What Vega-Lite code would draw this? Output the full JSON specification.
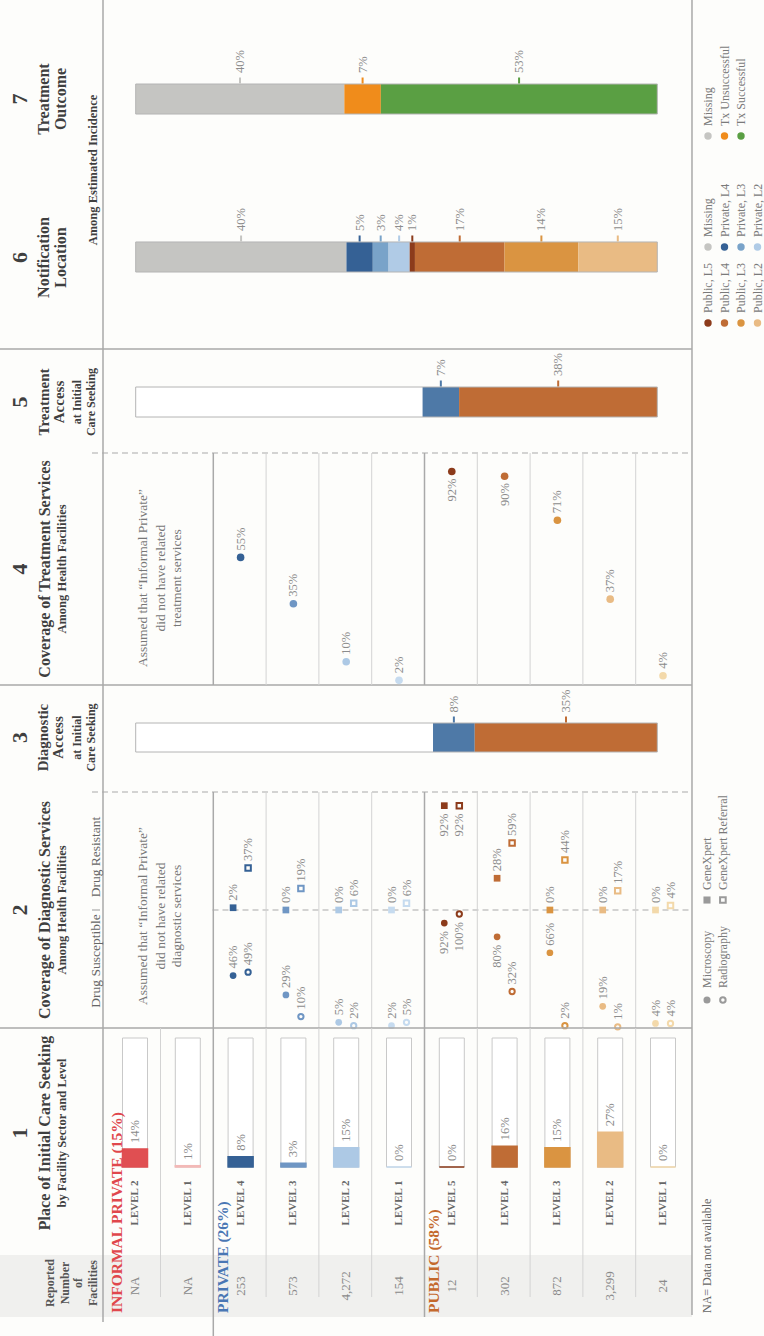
{
"$schema":"https://vega.github.io/schema/vega-lite/v6.json",
"width":764,"height":1336,"padding":0,"autosize":{"type":"none"},
"background":"#fdfdfb",
"config":{"view":{"stroke":null},"axis":{"disable":true},"legend":{"disable":true},"text":{"font":"Liberation Serif"}},
"datasets":{
"units":[
{"unit":"Informal L2","sector":"Informal Private","level":"LEVEL 2","facilities":"NA","seek":0.14,"tx":null},
{"unit":"Informal L1","sector":"Informal Private","level":"LEVEL 1","facilities":"NA","seek":0.01,"tx":null},
{"unit":"Private L4","sector":"Private","level":"LEVEL 4","facilities":"253","seek":0.08,"tx":0.55},
{"unit":"Private L3","sector":"Private","level":"LEVEL 3","facilities":"573","seek":0.03,"tx":0.35},
{"unit":"Private L2","sector":"Private","level":"LEVEL 2","facilities":"4,272","seek":0.15,"tx":0.10},
{"unit":"Private L1","sector":"Private","level":"LEVEL 1","facilities":"154","seek":0.0,"tx":0.02},
{"unit":"Public L5","sector":"Public","level":"LEVEL 5","facilities":"12","seek":0.0,"tx":0.92},
{"unit":"Public L4","sector":"Public","level":"LEVEL 4","facilities":"302","seek":0.16,"tx":0.90},
{"unit":"Public L3","sector":"Public","level":"LEVEL 3","facilities":"872","seek":0.15,"tx":0.71},
{"unit":"Public L2","sector":"Public","level":"LEVEL 2","facilities":"3,299","seek":0.27,"tx":0.37},
{"unit":"Public L1","sector":"Public","level":"LEVEL 1","facilities":"24","seek":0.0,"tx":0.04}
],
"diag":[
{"unit":"Private L4","test":"Microscopy","share":0.46},{"unit":"Private L4","test":"Radiography","share":0.49},{"unit":"Private L4","test":"GeneXpert","share":0.02},{"unit":"Private L4","test":"GeneXpert Referral","share":0.37},
{"unit":"Private L3","test":"Microscopy","share":0.29},{"unit":"Private L3","test":"Radiography","share":0.10},{"unit":"Private L3","test":"GeneXpert","share":0.0},{"unit":"Private L3","test":"GeneXpert Referral","share":0.19},
{"unit":"Private L2","test":"Microscopy","share":0.05},{"unit":"Private L2","test":"Radiography","share":0.02},{"unit":"Private L2","test":"GeneXpert","share":0.0},{"unit":"Private L2","test":"GeneXpert Referral","share":0.06},
{"unit":"Private L1","test":"Microscopy","share":0.02},{"unit":"Private L1","test":"Radiography","share":0.05},{"unit":"Private L1","test":"GeneXpert","share":0.0},{"unit":"Private L1","test":"GeneXpert Referral","share":0.06},
{"unit":"Public L5","test":"Microscopy","share":0.92},{"unit":"Public L5","test":"Radiography","share":1.0},{"unit":"Public L5","test":"GeneXpert","share":0.92},{"unit":"Public L5","test":"GeneXpert Referral","share":0.92},
{"unit":"Public L4","test":"Microscopy","share":0.80},{"unit":"Public L4","test":"Radiography","share":0.32},{"unit":"Public L4","test":"GeneXpert","share":0.28},{"unit":"Public L4","test":"GeneXpert Referral","share":0.59},
{"unit":"Public L3","test":"Microscopy","share":0.66},{"unit":"Public L3","test":"Radiography","share":0.02},{"unit":"Public L3","test":"GeneXpert","share":0.0},{"unit":"Public L3","test":"GeneXpert Referral","share":0.44},
{"unit":"Public L2","test":"Microscopy","share":0.19},{"unit":"Public L2","test":"Radiography","share":0.01},{"unit":"Public L2","test":"GeneXpert","share":0.0},{"unit":"Public L2","test":"GeneXpert Referral","share":0.17},
{"unit":"Public L1","test":"Microscopy","share":0.04},{"unit":"Public L1","test":"Radiography","share":0.04},{"unit":"Public L1","test":"GeneXpert","share":0.0},{"unit":"Public L1","test":"GeneXpert Referral","share":0.04}
],
"sectors":[
{"sector":"Informal Private","unit":"Informal L2","label":"INFORMAL PRIVATE (15%)"},
{"sector":"Private","unit":"Private L4","label":"PRIVATE (26%)"},
{"sector":"Public","unit":"Public L5","label":"PUBLIC (58%)"}
],
"outcomeNotif":[
{"measure":"Treatment Outcome","cat":"Missing","share":0.40},
{"measure":"Treatment Outcome","cat":"Tx Unsuccessful","share":0.07},
{"measure":"Treatment Outcome","cat":"Tx Successful","share":0.53},
{"measure":"Notification Location","cat":"Missing","share":0.40},
{"measure":"Notification Location","cat":"Private, L4","share":0.05},
{"measure":"Notification Location","cat":"Private, L3","share":0.03},
{"measure":"Notification Location","cat":"Private, L2","share":0.04},
{"measure":"Notification Location","cat":"Public, L5","share":0.01},
{"measure":"Notification Location","cat":"Public, L4","share":0.17},
{"measure":"Notification Location","cat":"Public, L3","share":0.14},
{"measure":"Notification Location","cat":"Public, L2","share":0.15}
],
"dxAccess":[
{"measure":"Diagnostic Access","cat":"Other","share":0.57},
{"measure":"Diagnostic Access","cat":"Private","share":0.08},
{"measure":"Diagnostic Access","cat":"Public","share":0.35}
],
"txAccess":[
{"measure":"Treatment Access","cat":"Other","share":0.55},
{"measure":"Treatment Access","cat":"Private","share":0.07},
{"measure":"Treatment Access","cat":"Public","share":0.38}
],
"legend67":[
{"block":"outcome","cat":"Missing"},{"block":"outcome","cat":"Tx Unsuccessful"},{"block":"outcome","cat":"Tx Successful"},
{"block":"private","cat":"Missing"},{"block":"private","cat":"Private, L4"},{"block":"private","cat":"Private, L3"},{"block":"private","cat":"Private, L2"},
{"block":"public","cat":"Public, L5"},{"block":"public","cat":"Public, L4"},{"block":"public","cat":"Public, L3"},{"block":"public","cat":"Public, L2"}
]
},
"layer":[
{"data":{"values":[{}]},"mark":{"type":"rect","fill":"#f0f0ee"},"encoding":{"x":{"datum":-1.5094,"type":"quantitative","scale":{"domain":[1,11],"range":[133,663],"nice":false,"zero":false}},"x2":{"datum":11.547},"y":{"datum":-0.682,"type":"quantitative","scale":{"domain":[0,1],"range":[1167,1038],"nice":false,"zero":false}},"y2":{"datum":-1.163}}},

{"data":{"values":[{}]},"layer":[
{"mark":{"type":"rule","color":"#a9a9a9","strokeWidth":1.5},"encoding":{"x":{"datum":0.434,"type":"quantitative","scale":{"domain":[1,11],"range":[133,663],"nice":false,"zero":false}},"y":{"datum":3.8,"type":"quantitative","scale":{"domain":[0,1],"range":[114,84],"nice":false,"zero":false}},"y2":{"datum":-7.833}}},
{"mark":{"type":"rule","color":"#a9a9a9","strokeWidth":1.5},"encoding":{"x":{"datum":11.547,"type":"quantitative","scale":{"domain":[1,11],"range":[133,663],"nice":false,"zero":false}},"y":{"datum":3.8,"type":"quantitative","scale":{"domain":[0,1],"range":[114,84],"nice":false,"zero":false}},"y2":{"datum":-7.833}}},
{"mark":{"type":"rule","color":"#a9a9a9","strokeWidth":1.5},"encoding":{"x":{"datum":-1.5094,"type":"quantitative","scale":{"domain":[1,11],"range":[133,663],"nice":false,"zero":false}},"x2":{"datum":11.547},"y":{"datum":-7.833,"type":"quantitative","scale":{"domain":[0,1],"range":[114,84],"nice":false,"zero":false}}}},
{"mark":{"type":"text","text":"7","angle":270,"align":"center","baseline":"middle","fontSize":22,"fontWeight":"bold","color":"#3f3f3f"},"encoding":{"x":{"datum":-1.132,"type":"quantitative","scale":{"domain":[1,11],"range":[133,663],"nice":false,"zero":false}},"y":{"datum":0.5,"type":"quantitative","scale":{"domain":[0,1],"range":[114,84],"nice":false,"zero":false}}}},
{"mark":{"type":"text","text":"Treatment","angle":270,"align":"center","baseline":"middle","fontSize":16,"fontWeight":"bold","color":"#3f3f3f"},"encoding":{"x":{"datum":-0.679,"type":"quantitative","scale":{"domain":[1,11],"range":[133,663],"nice":false,"zero":false}},"y":{"datum":0.5,"type":"quantitative","scale":{"domain":[0,1],"range":[114,84],"nice":false,"zero":false}}}},
{"mark":{"type":"text","text":"Outcome","angle":270,"align":"center","baseline":"middle","fontSize":16,"fontWeight":"bold","color":"#3f3f3f"},"encoding":{"x":{"datum":-0.358,"type":"quantitative","scale":{"domain":[1,11],"range":[133,663],"nice":false,"zero":false}},"y":{"datum":0.5,"type":"quantitative","scale":{"domain":[0,1],"range":[114,84],"nice":false,"zero":false}}}},
{"mark":{"type":"text","text":"6","angle":270,"align":"center","baseline":"middle","fontSize":22,"fontWeight":"bold","color":"#3f3f3f"},"encoding":{"x":{"datum":-1.132,"type":"quantitative","scale":{"domain":[1,11],"range":[133,663],"nice":false,"zero":false}},"y":{"datum":-4.783,"type":"quantitative","scale":{"domain":[0,1],"range":[114,84],"nice":false,"zero":false}}}},
{"mark":{"type":"text","text":"Notification","angle":270,"align":"center","baseline":"middle","fontSize":16,"fontWeight":"bold","color":"#3f3f3f"},"encoding":{"x":{"datum":-0.679,"type":"quantitative","scale":{"domain":[1,11],"range":[133,663],"nice":false,"zero":false}},"y":{"datum":-4.783,"type":"quantitative","scale":{"domain":[0,1],"range":[114,84],"nice":false,"zero":false}}}},
{"mark":{"type":"text","text":"Location","angle":270,"align":"center","baseline":"middle","fontSize":16,"fontWeight":"bold","color":"#3f3f3f"},"encoding":{"x":{"datum":-0.358,"type":"quantitative","scale":{"domain":[1,11],"range":[133,663],"nice":false,"zero":false}},"y":{"datum":-4.783,"type":"quantitative","scale":{"domain":[0,1],"range":[114,84],"nice":false,"zero":false}}}},
{"mark":{"type":"text","text":"Among Estimated Incidence","angle":270,"align":"center","baseline":"middle","fontSize":12.5,"fontWeight":"bold","color":"#3f3f3f"},"encoding":{"x":{"datum":0.245,"type":"quantitative","scale":{"domain":[1,11],"range":[133,663],"nice":false,"zero":false}},"y":{"datum":-1.867,"type":"quantitative","scale":{"domain":[0,1],"range":[114,84],"nice":false,"zero":false}}}}
]},

{"data":{"name":"legend67"},"transform":[{"window":[{"op":"row_number","as":"slot"}],"groupby":["block"]}],"layer":[
{"transform":[{"filter":{"field":"block","equal":"outcome"}}],"mark":{"type":"circle","size":55,"opacity":1},"encoding":{"x":{"field":"slot","type":"quantitative","scale":{"domain":[1,4],"range":[708,757.5],"nice":false,"zero":false}},"y":{"datum":-0.733,"type":"quantitative","scale":{"domain":[0,1],"range":[114,84],"nice":false,"zero":false}},"color":{"field":"cat","type":"nominal","scale":{"domain":["Missing","Private, L4","Private, L3","Private, L2","Public, L5","Public, L4","Public, L3","Public, L2","Tx Unsuccessful","Tx Successful","Other","Private","Public"],"range":["#c5c5c2","#356195","#79a3c9","#b0cbe6","#8c3b1b","#bf6c35","#da9441","#e9bb84","#f08c1b","#5a9f43","#ffffff","#4e79a7","#bf6c35"]}}}},
{"transform":[{"filter":{"field":"block","equal":"outcome"}}],"mark":{"type":"text","angle":270,"align":"left","baseline":"middle","dx":10,"fontSize":12,"color":"#7a7a7a"},"encoding":{"x":{"field":"slot","type":"quantitative","scale":{"domain":[1,4],"range":[708,757.5],"nice":false,"zero":false}},"y":{"datum":-0.733,"type":"quantitative","scale":{"domain":[0,1],"range":[114,84],"nice":false,"zero":false}},"text":{"field":"cat"}}},
{"transform":[{"filter":{"field":"block","equal":"private"}}],"mark":{"type":"circle","size":55,"opacity":1},"encoding":{"x":{"field":"slot","type":"quantitative","scale":{"domain":[1,4],"range":[708,757.5],"nice":false,"zero":false}},"y":{"datum":-4.433,"type":"quantitative","scale":{"domain":[0,1],"range":[114,84],"nice":false,"zero":false}},"color":{"field":"cat","type":"nominal","scale":{"domain":["Missing","Private, L4","Private, L3","Private, L2","Public, L5","Public, L4","Public, L3","Public, L2","Tx Unsuccessful","Tx Successful","Other","Private","Public"],"range":["#c5c5c2","#356195","#79a3c9","#b0cbe6","#8c3b1b","#bf6c35","#da9441","#e9bb84","#f08c1b","#5a9f43","#ffffff","#4e79a7","#bf6c35"]}}}},
{"transform":[{"filter":{"field":"block","equal":"private"}}],"mark":{"type":"text","angle":270,"align":"left","baseline":"middle","dx":10,"fontSize":12,"color":"#7a7a7a"},"encoding":{"x":{"field":"slot","type":"quantitative","scale":{"domain":[1,4],"range":[708,757.5],"nice":false,"zero":false}},"y":{"datum":-4.433,"type":"quantitative","scale":{"domain":[0,1],"range":[114,84],"nice":false,"zero":false}},"text":{"field":"cat"}}},
{"transform":[{"filter":{"field":"block","equal":"public"}}],"mark":{"type":"circle","size":55,"opacity":1},"encoding":{"x":{"field":"slot","type":"quantitative","scale":{"domain":[1,4],"range":[708,757.5],"nice":false,"zero":false}},"y":{"datum":-6.967,"type":"quantitative","scale":{"domain":[0,1],"range":[114,84],"nice":false,"zero":false}},"color":{"field":"cat","type":"nominal","scale":{"domain":["Missing","Private, L4","Private, L3","Private, L2","Public, L5","Public, L4","Public, L3","Public, L2","Tx Unsuccessful","Tx Successful","Other","Private","Public"],"range":["#c5c5c2","#356195","#79a3c9","#b0cbe6","#8c3b1b","#bf6c35","#da9441","#e9bb84","#f08c1b","#5a9f43","#ffffff","#4e79a7","#bf6c35"]}}}},
{"transform":[{"filter":{"field":"block","equal":"public"}}],"mark":{"type":"text","angle":270,"align":"left","baseline":"middle","dx":10,"fontSize":12,"color":"#7a7a7a"},"encoding":{"x":{"field":"slot","type":"quantitative","scale":{"domain":[1,4],"range":[708,757.5],"nice":false,"zero":false}},"y":{"datum":-6.967,"type":"quantitative","scale":{"domain":[0,1],"range":[114,84],"nice":false,"zero":false}},"text":{"field":"cat"}}}
]},

{"data":{"name":"outcomeNotif"},"transform":[{"window":[{"op":"row_number","as":"seq"}],"groupby":["measure"]}],"layer":[
{"mark":{"type":"bar"},"encoding":{"y":{"field":"measure","type":"nominal","scale":{"type":"band","domain":["Treatment Outcome","Notification Location"],"range":[84,272],"paddingInner":0.81,"paddingOuter":0}},"x":{"field":"share","type":"quantitative","stack":"normalize","scale":{"domain":[0,1],"range":[135.7,657.3],"nice":false,"zero":false}},"order":{"field":"seq","type":"quantitative"},"color":{"field":"cat","type":"nominal","scale":{"domain":["Missing","Private, L4","Private, L3","Private, L2","Public, L5","Public, L4","Public, L3","Public, L2","Tx Unsuccessful","Tx Successful","Other","Private","Public"],"range":["#c5c5c2","#356195","#79a3c9","#b0cbe6","#8c3b1b","#bf6c35","#da9441","#e9bb84","#f08c1b","#5a9f43","#ffffff","#4e79a7","#bf6c35"]}}}},
{"transform":[{"aggregate":[{"op":"count","as":"n"}],"groupby":["measure"]}],"mark":{"type":"bar","fillOpacity":0,"stroke":"#b4b4b4","strokeWidth":1},"encoding":{"y":{"field":"measure","type":"nominal","scale":{"type":"band","domain":["Treatment Outcome","Notification Location"],"range":[84,272],"paddingInner":0.81,"paddingOuter":0}},"x":{"datum":0,"type":"quantitative","scale":{"domain":[0,1],"range":[135.7,657.3],"nice":false,"zero":false}},"x2":{"datum":1}}},
{"mark":{"type":"tick","orient":"vertical","size":6,"thickness":2,"yOffset":-18.5,"opacity":1},"encoding":{"y":{"field":"measure","type":"nominal","scale":{"type":"band","domain":["Treatment Outcome","Notification Location"],"range":[84,272],"paddingInner":0.81,"paddingOuter":0}},"x":{"field":"share","type":"quantitative","stack":"normalize","bandPosition":0.5,"scale":{"domain":[0,1],"range":[135.7,657.3],"nice":false,"zero":false}},"order":{"field":"seq","type":"quantitative"},"color":{"field":"cat","type":"nominal","scale":{"domain":["Missing","Private, L4","Private, L3","Private, L2","Public, L5","Public, L4","Public, L3","Public, L2","Tx Unsuccessful","Tx Successful","Other","Private","Public"],"range":["#c5c5c2","#356195","#79a3c9","#b0cbe6","#8c3b1b","#bf6c35","#da9441","#e9bb84","#f08c1b","#5a9f43","#ffffff","#4e79a7","#bf6c35"]}}}},
{"mark":{"type":"text","angle":270,"align":"left","baseline":"middle","yOffset":-26,"fontSize":12.5,"color":"#8c8c8c"},"encoding":{"y":{"field":"measure","type":"nominal","scale":{"type":"band","domain":["Treatment Outcome","Notification Location"],"range":[84,272],"paddingInner":0.81,"paddingOuter":0}},"x":{"field":"share","type":"quantitative","stack":"normalize","bandPosition":0.5,"scale":{"domain":[0,1],"range":[135.7,657.3],"nice":false,"zero":false}},"order":{"field":"seq","type":"quantitative"},"detail":{"field":"cat","type":"nominal"},"text":{"field":"share","format":".0%"}}}
]},

{"data":{"values":[{}]},"layer":[
{"mark":{"type":"rule","color":"#a9a9a9","strokeWidth":1.5},"encoding":{"x":{"datum":0.434,"type":"quantitative","scale":{"domain":[1,11],"range":[133,663],"nice":false,"zero":false}},"y":{"datum":2.267,"type":"quantitative","scale":{"domain":[0,1],"range":[417,387],"nice":false,"zero":false}},"y2":{"datum":-1.2}}},
{"mark":{"type":"rule","color":"#a9a9a9","strokeWidth":1.5},"encoding":{"x":{"datum":11.547,"type":"quantitative","scale":{"domain":[1,11],"range":[133,663],"nice":false,"zero":false}},"y":{"datum":2.267,"type":"quantitative","scale":{"domain":[0,1],"range":[417,387],"nice":false,"zero":false}},"y2":{"datum":-1.2}}},
{"mark":{"type":"text","text":"5","angle":270,"align":"center","baseline":"middle","fontSize":22,"fontWeight":"bold","color":"#3f3f3f"},"encoding":{"x":{"datum":-1.132,"type":"quantitative","scale":{"domain":[1,11],"range":[133,663],"nice":false,"zero":false}},"y":{"datum":0.5,"type":"quantitative","scale":{"domain":[0,1],"range":[417,387],"nice":false,"zero":false}}}},
{"mark":{"type":"text","text":"Treatment","angle":270,"align":"center","baseline":"middle","fontSize":15,"fontWeight":"bold","color":"#3f3f3f"},"encoding":{"x":{"datum":-0.68,"type":"quantitative","scale":{"domain":[1,11],"range":[133,663],"nice":false,"zero":false}},"y":{"datum":0.5,"type":"quantitative","scale":{"domain":[0,1],"range":[417,387],"nice":false,"zero":false}}}},
{"mark":{"type":"text","text":"Access","angle":270,"align":"center","baseline":"middle","fontSize":15,"fontWeight":"bold","color":"#3f3f3f"},"encoding":{"x":{"datum":-0.40,"type":"quantitative","scale":{"domain":[1,11],"range":[133,663],"nice":false,"zero":false}},"y":{"datum":0.5,"type":"quantitative","scale":{"domain":[0,1],"range":[417,387],"nice":false,"zero":false}}}},
{"mark":{"type":"text","text":"at Initial","angle":270,"align":"center","baseline":"middle","fontSize":12,"fontWeight":"bold","color":"#3f3f3f"},"encoding":{"x":{"datum":-0.057,"type":"quantitative","scale":{"domain":[1,11],"range":[133,663],"nice":false,"zero":false}},"y":{"datum":0.5,"type":"quantitative","scale":{"domain":[0,1],"range":[417,387],"nice":false,"zero":false}}}},
{"mark":{"type":"text","text":"Care Seeking","angle":270,"align":"center","baseline":"middle","fontSize":12,"fontWeight":"bold","color":"#3f3f3f"},"encoding":{"x":{"datum":0.208,"type":"quantitative","scale":{"domain":[1,11],"range":[133,663],"nice":false,"zero":false}},"y":{"datum":0.5,"type":"quantitative","scale":{"domain":[0,1],"range":[417,387],"nice":false,"zero":false}}}}
]},

{"data":{"name":"txAccess"},"transform":[{"window":[{"op":"row_number","as":"seq"}],"groupby":["measure"]}],"layer":[
{"mark":{"type":"bar"},"encoding":{"y":{"field":"measure","type":"nominal","scale":{"type":"band","domain":["Treatment Access"],"range":[387,417],"paddingInner":0,"paddingOuter":0}},"x":{"field":"share","type":"quantitative","stack":"normalize","scale":{"domain":[0,1],"range":[135.7,657.3],"nice":false,"zero":false}},"order":{"field":"seq","type":"quantitative"},"color":{"field":"cat","type":"nominal","scale":{"domain":["Other","Private","Public"],"range":["#ffffff","#4e79a7","#bf6c35"]}}}},
{"transform":[{"aggregate":[{"op":"count","as":"n"}],"groupby":["measure"]}],"mark":{"type":"bar","fillOpacity":0,"stroke":"#b4b4b4","strokeWidth":1},"encoding":{"y":{"field":"measure","type":"nominal","scale":{"type":"band","domain":["Treatment Access"],"range":[387,417],"paddingInner":0,"paddingOuter":0}},"x":{"datum":0,"type":"quantitative","scale":{"domain":[0,1],"range":[135.7,657.3],"nice":false,"zero":false}},"x2":{"datum":1}}},
{"mark":{"type":"tick","orient":"vertical","size":6,"thickness":2,"yOffset":-18.5},"encoding":{"y":{"field":"measure","type":"nominal","scale":{"type":"band","domain":["Treatment Access"],"range":[387,417],"paddingInner":0,"paddingOuter":0}},"x":{"field":"share","type":"quantitative","stack":"normalize","bandPosition":0.5,"scale":{"domain":[0,1],"range":[135.7,657.3],"nice":false,"zero":false}},"order":{"field":"seq","type":"quantitative"},"color":{"field":"cat","type":"nominal","scale":{"domain":["Other","Private","Public"],"range":["#ffffff","#4e79a7","#bf6c35"]}},"opacity":{"condition":{"test":"datum.cat === 'Other'","value":0},"value":1}}},
{"mark":{"type":"text","angle":270,"align":"left","baseline":"middle","yOffset":-26,"fontSize":12.5,"color":"#8c8c8c"},"encoding":{"y":{"field":"measure","type":"nominal","scale":{"type":"band","domain":["Treatment Access"],"range":[387,417],"paddingInner":0,"paddingOuter":0}},"x":{"field":"share","type":"quantitative","stack":"normalize","bandPosition":0.5,"scale":{"domain":[0,1],"range":[135.7,657.3],"nice":false,"zero":false}},"order":{"field":"seq","type":"quantitative"},"detail":{"field":"cat","type":"nominal"},"text":{"field":"share","format":".0%"},"opacity":{"condition":{"test":"datum.cat === 'Other'","value":0},"value":1}}}
]},

{"data":{"values":[{}]},"layer":[
{"mark":{"type":"rule","color":"#aaaaaa","strokeWidth":1.2,"strokeDash":[6,4]},"encoding":{"x":{"datum":0.2264,"type":"quantitative","scale":{"domain":[1,11],"range":[133,663],"nice":false,"zero":false}},"x2":{"datum":11.547},"y":{"datum":1,"type":"quantitative","scale":{"domain":[0,1],"range":[685,453],"nice":false,"zero":false}}}},
{"mark":{"type":"rule","color":"#a9a9a9","strokeWidth":1.5},"encoding":{"x":{"datum":-1.5094,"type":"quantitative","scale":{"domain":[1,11],"range":[133,663],"nice":false,"zero":false}},"x2":{"datum":11.547},"y":{"datum":0,"type":"quantitative","scale":{"domain":[0,1],"range":[685,453],"nice":false,"zero":false}}}},
{"mark":{"type":"rule","color":"#a9a9a9","strokeWidth":1.5},"encoding":{"x":{"datum":0.434,"type":"quantitative","scale":{"domain":[1,11],"range":[133,663],"nice":false,"zero":false}},"y":{"datum":1,"type":"quantitative","scale":{"domain":[0,1],"range":[685,453],"nice":false,"zero":false}},"y2":{"datum":0}}},
{"mark":{"type":"rule","color":"#a9a9a9","strokeWidth":1.5},"encoding":{"x":{"datum":11.547,"type":"quantitative","scale":{"domain":[1,11],"range":[133,663],"nice":false,"zero":false}},"y":{"datum":1,"type":"quantitative","scale":{"domain":[0,1],"range":[685,453],"nice":false,"zero":false}},"y2":{"datum":0}}},
{"mark":{"type":"text","text":"4","angle":270,"align":"center","baseline":"middle","fontSize":22,"fontWeight":"bold","color":"#3f3f3f"},"encoding":{"x":{"datum":-1.132,"type":"quantitative","scale":{"domain":[1,11],"range":[133,663],"nice":false,"zero":false}},"y":{"datum":0.5,"type":"quantitative","scale":{"domain":[0,1],"range":[685,453],"nice":false,"zero":false}}}},
{"mark":{"type":"text","text":"Coverage of Treatment Services","angle":270,"align":"center","baseline":"middle","fontSize":16,"fontWeight":"bold","color":"#3f3f3f"},"encoding":{"x":{"datum":-0.66,"type":"quantitative","scale":{"domain":[1,11],"range":[133,663],"nice":false,"zero":false}},"y":{"datum":0.5,"type":"quantitative","scale":{"domain":[0,1],"range":[685,453],"nice":false,"zero":false}}}},
{"mark":{"type":"text","text":"Among Health Facilities","angle":270,"align":"center","baseline":"middle","fontSize":12.5,"fontWeight":"bold","color":"#3f3f3f"},"encoding":{"x":{"datum":-0.34,"type":"quantitative","scale":{"domain":[1,11],"range":[133,663],"nice":false,"zero":false}},"y":{"datum":0.5,"type":"quantitative","scale":{"domain":[0,1],"range":[685,453],"nice":false,"zero":false}}}},
{"mark":{"type":"text","text":"Assumed that “Informal Private”","angle":270,"align":"center","baseline":"middle","fontSize":13.5,"color":"#777777"},"encoding":{"x":{"datum":1.189,"type":"quantitative","scale":{"domain":[1,11],"range":[133,663],"nice":false,"zero":false}},"y":{"datum":0.461,"type":"quantitative","scale":{"domain":[0,1],"range":[685,453],"nice":false,"zero":false}}}},
{"mark":{"type":"text","text":"did not have related","angle":270,"align":"center","baseline":"middle","fontSize":13.5,"color":"#777777"},"encoding":{"x":{"datum":1.519,"type":"quantitative","scale":{"domain":[1,11],"range":[133,663],"nice":false,"zero":false}},"y":{"datum":0.461,"type":"quantitative","scale":{"domain":[0,1],"range":[685,453],"nice":false,"zero":false}}}},
{"mark":{"type":"text","text":"treatment services","angle":270,"align":"center","baseline":"middle","fontSize":13.5,"color":"#777777"},"encoding":{"x":{"datum":1.821,"type":"quantitative","scale":{"domain":[1,11],"range":[133,663],"nice":false,"zero":false}},"y":{"datum":0.461,"type":"quantitative","scale":{"domain":[0,1],"range":[685,453],"nice":false,"zero":false}}}}
]},

{"data":{"name":"units"},"layer":[
{"transform":[{"filter":{"field":"unit","oneOf":["Private L4","Private L3","Private L2","Public L5","Public L4","Public L3","Public L2"]}}],"mark":{"type":"rule","xOffset":25.5,"color":"#d3d3d3","strokeWidth":1},"encoding":{"x":{"field":"unit","type":"nominal","scale":{"type":"point","domain":["Informal L2","Informal L1","Private L4","Private L3","Private L2","Private L1","Public L5","Public L4","Public L3","Public L2","Public L1"],"range":[135,663],"padding":0}},"y":{"datum":0,"type":"quantitative","scale":{"domain":[0,1],"range":[685,453],"nice":false,"zero":false}},"y2":{"datum":1}}},
{"transform":[{"filter":{"field":"unit","oneOf":["Informal L1","Private L1"]}}],"mark":{"type":"rule","xOffset":25.5,"color":"#a9a9a9","strokeWidth":1.5},"encoding":{"x":{"field":"unit","type":"nominal","scale":{"type":"point","domain":["Informal L2","Informal L1","Private L4","Private L3","Private L2","Private L1","Public L5","Public L4","Public L3","Public L2","Public L1"],"range":[135,663],"padding":0}},"y":{"datum":0,"type":"quantitative","scale":{"domain":[0,1],"range":[685,453],"nice":false,"zero":false}},"y2":{"datum":1}}},
{"transform":[{"filter":"isValid(datum.tx)"}],"mark":{"type":"circle","size":58,"opacity":1},"encoding":{"x":{"field":"unit","type":"nominal","scale":{"type":"point","domain":["Informal L2","Informal L1","Private L4","Private L3","Private L2","Private L1","Public L5","Public L4","Public L3","Public L2","Public L1"],"range":[135,663],"padding":0}},"y":{"field":"tx","type":"quantitative","scale":{"domain":[0,1],"range":[685,453],"nice":false,"zero":false}},"color":{"field":"unit","type":"nominal","scale":{"domain":["Informal L2","Informal L1","Private L4","Private L3","Private L2","Private L1","Public L5","Public L4","Public L3","Public L2","Public L1"],"range":["#e04f52","#f3b9b7","#356195","#6f96c4","#adc9e5","#c6dbef","#8c3b1b","#bf6c35","#da9441","#e9bb84","#f3d9aa"]}}}},
{"transform":[{"filter":"isValid(datum.tx) && datum.tx < 0.75"}],"mark":{"type":"text","angle":270,"align":"left","baseline":"middle","dx":7,"fontSize":12.5,"color":"#8c8c8c"},"encoding":{"x":{"field":"unit","type":"nominal","scale":{"type":"point","domain":["Informal L2","Informal L1","Private L4","Private L3","Private L2","Private L1","Public L5","Public L4","Public L3","Public L2","Public L1"],"range":[135,663],"padding":0}},"y":{"field":"tx","type":"quantitative","scale":{"domain":[0,1],"range":[685,453],"nice":false,"zero":false}},"text":{"field":"tx","format":".0%"}}},
{"transform":[{"filter":"isValid(datum.tx) && datum.tx >= 0.75"}],"mark":{"type":"text","angle":270,"align":"right","baseline":"middle","dx":-7,"fontSize":12.5,"color":"#8c8c8c"},"encoding":{"x":{"field":"unit","type":"nominal","scale":{"type":"point","domain":["Informal L2","Informal L1","Private L4","Private L3","Private L2","Private L1","Public L5","Public L4","Public L3","Public L2","Public L1"],"range":[135,663],"padding":0}},"y":{"field":"tx","type":"quantitative","scale":{"domain":[0,1],"range":[685,453],"nice":false,"zero":false}},"text":{"field":"tx","format":".0%"}}}
]},

{"data":{"values":[{}]},"layer":[
{"mark":{"type":"rule","color":"#a9a9a9","strokeWidth":1.5},"encoding":{"x":{"datum":0.434,"type":"quantitative","scale":{"domain":[1,11],"range":[133,663],"nice":false,"zero":false}},"y":{"datum":2.31,"type":"quantitative","scale":{"domain":[0,1],"range":[752,723],"nice":false,"zero":false}},"y2":{"datum":-1.379}}},
{"mark":{"type":"rule","color":"#a9a9a9","strokeWidth":1.5},"encoding":{"x":{"datum":11.547,"type":"quantitative","scale":{"domain":[1,11],"range":[133,663],"nice":false,"zero":false}},"y":{"datum":2.31,"type":"quantitative","scale":{"domain":[0,1],"range":[752,723],"nice":false,"zero":false}},"y2":{"datum":-1.379}}},
{"mark":{"type":"text","text":"3","angle":270,"align":"center","baseline":"middle","fontSize":22,"fontWeight":"bold","color":"#3f3f3f"},"encoding":{"x":{"datum":-1.132,"type":"quantitative","scale":{"domain":[1,11],"range":[133,663],"nice":false,"zero":false}},"y":{"datum":0.5,"type":"quantitative","scale":{"domain":[0,1],"range":[752,723],"nice":false,"zero":false}}}},
{"mark":{"type":"text","text":"Diagnostic","angle":270,"align":"center","baseline":"middle","fontSize":15,"fontWeight":"bold","color":"#3f3f3f"},"encoding":{"x":{"datum":-0.698,"type":"quantitative","scale":{"domain":[1,11],"range":[133,663],"nice":false,"zero":false}},"y":{"datum":0.5,"type":"quantitative","scale":{"domain":[0,1],"range":[752,723],"nice":false,"zero":false}}}},
{"mark":{"type":"text","text":"Access","angle":270,"align":"center","baseline":"middle","fontSize":15,"fontWeight":"bold","color":"#3f3f3f"},"encoding":{"x":{"datum":-0.415,"type":"quantitative","scale":{"domain":[1,11],"range":[133,663],"nice":false,"zero":false}},"y":{"datum":0.5,"type":"quantitative","scale":{"domain":[0,1],"range":[752,723],"nice":false,"zero":false}}}},
{"mark":{"type":"text","text":"at Initial","angle":270,"align":"center","baseline":"middle","fontSize":12,"fontWeight":"bold","color":"#3f3f3f"},"encoding":{"x":{"datum":-0.057,"type":"quantitative","scale":{"domain":[1,11],"range":[133,663],"nice":false,"zero":false}},"y":{"datum":0.5,"type":"quantitative","scale":{"domain":[0,1],"range":[752,723],"nice":false,"zero":false}}}},
{"mark":{"type":"text","text":"Care Seeking","angle":270,"align":"center","baseline":"middle","fontSize":12,"fontWeight":"bold","color":"#3f3f3f"},"encoding":{"x":{"datum":0.208,"type":"quantitative","scale":{"domain":[1,11],"range":[133,663],"nice":false,"zero":false}},"y":{"datum":0.5,"type":"quantitative","scale":{"domain":[0,1],"range":[752,723],"nice":false,"zero":false}}}}
]},

{"data":{"name":"dxAccess"},"transform":[{"window":[{"op":"row_number","as":"seq"}],"groupby":["measure"]}],"layer":[
{"mark":{"type":"bar"},"encoding":{"y":{"field":"measure","type":"nominal","scale":{"type":"band","domain":["Diagnostic Access"],"range":[723,752],"paddingInner":0,"paddingOuter":0}},"x":{"field":"share","type":"quantitative","stack":"normalize","scale":{"domain":[0,1],"range":[135.7,657.3],"nice":false,"zero":false}},"order":{"field":"seq","type":"quantitative"},"color":{"field":"cat","type":"nominal","scale":{"domain":["Other","Private","Public"],"range":["#ffffff","#4e79a7","#bf6c35"]}}}},
{"transform":[{"aggregate":[{"op":"count","as":"n"}],"groupby":["measure"]}],"mark":{"type":"bar","fillOpacity":0,"stroke":"#b4b4b4","strokeWidth":1},"encoding":{"y":{"field":"measure","type":"nominal","scale":{"type":"band","domain":["Diagnostic Access"],"range":[723,752],"paddingInner":0,"paddingOuter":0}},"x":{"datum":0,"type":"quantitative","scale":{"domain":[0,1],"range":[135.7,657.3],"nice":false,"zero":false}},"x2":{"datum":1}}},
{"mark":{"type":"tick","orient":"vertical","size":6,"thickness":2,"yOffset":-18},"encoding":{"y":{"field":"measure","type":"nominal","scale":{"type":"band","domain":["Diagnostic Access"],"range":[723,752],"paddingInner":0,"paddingOuter":0}},"x":{"field":"share","type":"quantitative","stack":"normalize","bandPosition":0.5,"scale":{"domain":[0,1],"range":[135.7,657.3],"nice":false,"zero":false}},"order":{"field":"seq","type":"quantitative"},"color":{"field":"cat","type":"nominal","scale":{"domain":["Other","Private","Public"],"range":["#ffffff","#4e79a7","#bf6c35"]}},"opacity":{"condition":{"test":"datum.cat === 'Other'","value":0},"value":1}}},
{"mark":{"type":"text","angle":270,"align":"left","baseline":"middle","yOffset":-25,"fontSize":12.5,"color":"#8c8c8c"},"encoding":{"y":{"field":"measure","type":"nominal","scale":{"type":"band","domain":["Diagnostic Access"],"range":[723,752],"paddingInner":0,"paddingOuter":0}},"x":{"field":"share","type":"quantitative","stack":"normalize","bandPosition":0.5,"scale":{"domain":[0,1],"range":[135.7,657.3],"nice":false,"zero":false}},"order":{"field":"seq","type":"quantitative"},"detail":{"field":"cat","type":"nominal"},"text":{"field":"share","format":".0%"},"opacity":{"condition":{"test":"datum.cat === 'Other'","value":0},"value":1}}}
]},

{"data":{"values":[{}]},"layer":[
{"mark":{"type":"rule","color":"#aaaaaa","strokeWidth":1.2,"strokeDash":[6,4]},"encoding":{"x":{"datum":0.2264,"type":"quantitative","scale":{"domain":[1,11],"range":[133,663],"nice":false,"zero":false}},"x2":{"datum":11.547},"y":{"datum":1.0406,"type":"quantitative","scale":{"domain":[0,1],"range":[910,796.6],"nice":false,"zero":false}}}},
{"mark":{"type":"rule","color":"#aaaaaa","strokeWidth":1.2,"strokeDash":[6,4]},"encoding":{"x":{"datum":2.5,"type":"quantitative","scale":{"domain":[1,11],"range":[133,663],"nice":false,"zero":false}},"x2":{"datum":11.547},"y":{"datum":0,"type":"quantitative","scale":{"domain":[0,1],"range":[910,796.6],"nice":false,"zero":false}}}},
{"mark":{"type":"rule","color":"#aaaaaa","strokeWidth":1.2},"encoding":{"x":{"datum":0.2264,"type":"quantitative","scale":{"domain":[1,11],"range":[133,663],"nice":false,"zero":false}},"x2":{"datum":0.3774},"y":{"datum":0,"type":"quantitative","scale":{"domain":[0,1],"range":[910,796.6],"nice":false,"zero":false}}}},
{"mark":{"type":"rule","color":"#a9a9a9","strokeWidth":1.5},"encoding":{"x":{"datum":0.434,"type":"quantitative","scale":{"domain":[1,11],"range":[133,663],"nice":false,"zero":false}},"y":{"datum":1.0406,"type":"quantitative","scale":{"domain":[0,1],"range":[910,796.6],"nice":false,"zero":false}},"y2":{"datum":-1.0406}}},
{"mark":{"type":"rule","color":"#a9a9a9","strokeWidth":1.5},"encoding":{"x":{"datum":11.547,"type":"quantitative","scale":{"domain":[1,11],"range":[133,663],"nice":false,"zero":false}},"y":{"datum":1.0406,"type":"quantitative","scale":{"domain":[0,1],"range":[910,796.6],"nice":false,"zero":false}},"y2":{"datum":-1.0406}}},
{"mark":{"type":"text","text":"2","angle":270,"align":"center","baseline":"middle","fontSize":22,"fontWeight":"bold","color":"#3f3f3f"},"encoding":{"x":{"datum":-1.132,"type":"quantitative","scale":{"domain":[1,11],"range":[133,663],"nice":false,"zero":false}},"y":{"datum":0,"type":"quantitative","scale":{"domain":[0,1],"range":[910,796.6],"nice":false,"zero":false}}}},
{"mark":{"type":"text","text":"Coverage of Diagnostic Services","angle":270,"align":"center","baseline":"middle","fontSize":16,"fontWeight":"bold","color":"#3f3f3f"},"encoding":{"x":{"datum":-0.66,"type":"quantitative","scale":{"domain":[1,11],"range":[133,663],"nice":false,"zero":false}},"y":{"datum":0,"type":"quantitative","scale":{"domain":[0,1],"range":[910,796.6],"nice":false,"zero":false}}}},
{"mark":{"type":"text","text":"Among Health Facilities","angle":270,"align":"center","baseline":"middle","fontSize":12.5,"fontWeight":"bold","color":"#3f3f3f"},"encoding":{"x":{"datum":-0.34,"type":"quantitative","scale":{"domain":[1,11],"range":[133,663],"nice":false,"zero":false}},"y":{"datum":0,"type":"quantitative","scale":{"domain":[0,1],"range":[910,796.6],"nice":false,"zero":false}}}},
{"mark":{"type":"text","text":"Drug Susceptible","angle":270,"align":"center","baseline":"middle","fontSize":13.5,"color":"#666666"},"encoding":{"x":{"datum":0.302,"type":"quantitative","scale":{"domain":[1,11],"range":[133,663],"nice":false,"zero":false}},"y":{"datum":-0.45,"type":"quantitative","scale":{"domain":[0,1],"range":[910,796.6],"nice":false,"zero":false}}}},
{"mark":{"type":"text","text":"Drug Resistant","angle":270,"align":"center","baseline":"middle","fontSize":13.5,"color":"#666666"},"encoding":{"x":{"datum":0.302,"type":"quantitative","scale":{"domain":[1,11],"range":[133,663],"nice":false,"zero":false}},"y":{"datum":0.467,"type":"quantitative","scale":{"domain":[0,1],"range":[910,796.6],"nice":false,"zero":false}}}},
{"mark":{"type":"text","text":"Assumed that “Informal Private”","angle":270,"align":"center","baseline":"middle","fontSize":13.5,"color":"#777777"},"encoding":{"x":{"datum":1.189,"type":"quantitative","scale":{"domain":[1,11],"range":[133,663],"nice":false,"zero":false}},"y":{"datum":-0.053,"type":"quantitative","scale":{"domain":[0,1],"range":[910,796.6],"nice":false,"zero":false}}}},
{"mark":{"type":"text","text":"did not have related","angle":270,"align":"center","baseline":"middle","fontSize":13.5,"color":"#777777"},"encoding":{"x":{"datum":1.519,"type":"quantitative","scale":{"domain":[1,11],"range":[133,663],"nice":false,"zero":false}},"y":{"datum":-0.053,"type":"quantitative","scale":{"domain":[0,1],"range":[910,796.6],"nice":false,"zero":false}}}},
{"mark":{"type":"text","text":"diagnostic services","angle":270,"align":"center","baseline":"middle","fontSize":13.5,"color":"#777777"},"encoding":{"x":{"datum":1.821,"type":"quantitative","scale":{"domain":[1,11],"range":[133,663],"nice":false,"zero":false}},"y":{"datum":-0.053,"type":"quantitative","scale":{"domain":[0,1],"range":[910,796.6],"nice":false,"zero":false}}}},
{"mark":{"type":"point","shape":"circle","filled":true,"size":50,"opacity":1,"color":"#9a9a9a"},"encoding":{"x":{"datum":11.83,"type":"quantitative","scale":{"domain":[1,11],"range":[133,663],"nice":false,"zero":false}},"y":{"datum":-0.794,"type":"quantitative","scale":{"domain":[0,1],"range":[910,796.6],"nice":false,"zero":false}}}},
{"mark":{"type":"point","shape":"circle","filled":false,"size":30,"strokeWidth":2,"opacity":1,"color":"#9a9a9a"},"encoding":{"x":{"datum":12.13,"type":"quantitative","scale":{"domain":[1,11],"range":[133,663],"nice":false,"zero":false}},"y":{"datum":-0.794,"type":"quantitative","scale":{"domain":[0,1],"range":[910,796.6],"nice":false,"zero":false}}}},
{"mark":{"type":"point","shape":"square","filled":true,"size":50,"opacity":1,"color":"#9a9a9a"},"encoding":{"x":{"datum":11.83,"type":"quantitative","scale":{"domain":[1,11],"range":[133,663],"nice":false,"zero":false}},"y":{"datum":0.088,"type":"quantitative","scale":{"domain":[0,1],"range":[910,796.6],"nice":false,"zero":false}}}},
{"mark":{"type":"point","shape":"square","filled":false,"size":32,"strokeWidth":2,"opacity":1,"color":"#9a9a9a"},"encoding":{"x":{"datum":12.13,"type":"quantitative","scale":{"domain":[1,11],"range":[133,663],"nice":false,"zero":false}},"y":{"datum":0.088,"type":"quantitative","scale":{"domain":[0,1],"range":[910,796.6],"nice":false,"zero":false}}}},
{"mark":{"type":"text","text":"Microscopy","angle":270,"align":"left","baseline":"middle","dx":12,"fontSize":12,"color":"#7a7a7a"},"encoding":{"x":{"datum":11.83,"type":"quantitative","scale":{"domain":[1,11],"range":[133,663],"nice":false,"zero":false}},"y":{"datum":-0.794,"type":"quantitative","scale":{"domain":[0,1],"range":[910,796.6],"nice":false,"zero":false}}}},
{"mark":{"type":"text","text":"Radiography","angle":270,"align":"left","baseline":"middle","dx":12,"fontSize":12,"color":"#7a7a7a"},"encoding":{"x":{"datum":12.13,"type":"quantitative","scale":{"domain":[1,11],"range":[133,663],"nice":false,"zero":false}},"y":{"datum":-0.794,"type":"quantitative","scale":{"domain":[0,1],"range":[910,796.6],"nice":false,"zero":false}}}},
{"mark":{"type":"text","text":"GeneXpert","angle":270,"align":"left","baseline":"middle","dx":10,"fontSize":12,"color":"#7a7a7a"},"encoding":{"x":{"datum":11.83,"type":"quantitative","scale":{"domain":[1,11],"range":[133,663],"nice":false,"zero":false}},"y":{"datum":0.088,"type":"quantitative","scale":{"domain":[0,1],"range":[910,796.6],"nice":false,"zero":false}}}},
{"mark":{"type":"text","text":"GeneXpert Referral","angle":270,"align":"left","baseline":"middle","dx":10,"fontSize":12,"color":"#7a7a7a"},"encoding":{"x":{"datum":12.13,"type":"quantitative","scale":{"domain":[1,11],"range":[133,663],"nice":false,"zero":false}},"y":{"datum":0.088,"type":"quantitative","scale":{"domain":[0,1],"range":[910,796.6],"nice":false,"zero":false}}}}
]},

{"data":{"name":"diag"},"transform":[{"filter":{"field":"test","oneOf":["Microscopy","Radiography"]}}],"layer":[
{"data":{"name":"units"},"transform":[{"filter":{"field":"unit","oneOf":["Private L4","Private L3","Private L2","Public L5","Public L4","Public L3","Public L2"]}}],"mark":{"type":"rule","xOffset":25.5,"color":"#d3d3d3","strokeWidth":1},"encoding":{"x":{"field":"unit","type":"nominal","scale":{"type":"point","domain":["Informal L2","Informal L1","Private L4","Private L3","Private L2","Private L1","Public L5","Public L4","Public L3","Public L2","Public L1"],"range":[135,663],"padding":0}},"y":{"datum":0,"type":"quantitative","scale":{"domain":[0,1],"range":[1028,914],"nice":false,"zero":false}},"y2":{"datum":2.07}}},
{"data":{"name":"units"},"transform":[{"filter":{"field":"unit","oneOf":["Informal L1","Private L1"]}}],"mark":{"type":"rule","xOffset":25.5,"color":"#a9a9a9","strokeWidth":1.5},"encoding":{"x":{"field":"unit","type":"nominal","scale":{"type":"point","domain":["Informal L2","Informal L1","Private L4","Private L3","Private L2","Private L1","Public L5","Public L4","Public L3","Public L2","Public L1"],"range":[135,663],"padding":0}},"y":{"datum":0,"type":"quantitative","scale":{"domain":[0,1],"range":[1028,914],"nice":false,"zero":false}},"y2":{"datum":2.07}}},
{"transform":[{"filter":{"field":"test","equal":"Microscopy"}}],"mark":{"type":"point","shape":"circle","filled":true,"size":45,"opacity":1,"xOffset":-7.5},"encoding":{"x":{"field":"unit","type":"nominal","scale":{"type":"point","domain":["Informal L2","Informal L1","Private L4","Private L3","Private L2","Private L1","Public L5","Public L4","Public L3","Public L2","Public L1"],"range":[135,663],"padding":0}},"y":{"field":"share","type":"quantitative","scale":{"domain":[0,1],"range":[1028,914],"nice":false,"zero":false}},"color":{"field":"unit","type":"nominal","scale":{"domain":["Informal L2","Informal L1","Private L4","Private L3","Private L2","Private L1","Public L5","Public L4","Public L3","Public L2","Public L1"],"range":["#e04f52","#f3b9b7","#356195","#6f96c4","#adc9e5","#c6dbef","#8c3b1b","#bf6c35","#da9441","#e9bb84","#f3d9aa"]}}}},
{"transform":[{"filter":{"field":"test","equal":"Radiography"}}],"mark":{"type":"point","shape":"circle","filled":false,"size":28,"strokeWidth":2,"opacity":1,"xOffset":7.5},"encoding":{"x":{"field":"unit","type":"nominal","scale":{"type":"point","domain":["Informal L2","Informal L1","Private L4","Private L3","Private L2","Private L1","Public L5","Public L4","Public L3","Public L2","Public L1"],"range":[135,663],"padding":0}},"y":{"field":"share","type":"quantitative","scale":{"domain":[0,1],"range":[1028,914],"nice":false,"zero":false}},"color":{"field":"unit","type":"nominal","scale":{"domain":["Informal L2","Informal L1","Private L4","Private L3","Private L2","Private L1","Public L5","Public L4","Public L3","Public L2","Public L1"],"range":["#e04f52","#f3b9b7","#356195","#6f96c4","#adc9e5","#c6dbef","#8c3b1b","#bf6c35","#da9441","#e9bb84","#f3d9aa"]}}}},
{"transform":[{"filter":"datum.test === 'Microscopy' && datum.share < 0.75"}],"mark":{"type":"text","angle":270,"align":"left","baseline":"middle","dx":7,"xOffset":-7.5,"fontSize":12.5,"color":"#8c8c8c"},"encoding":{"x":{"field":"unit","type":"nominal","scale":{"type":"point","domain":["Informal L2","Informal L1","Private L4","Private L3","Private L2","Private L1","Public L5","Public L4","Public L3","Public L2","Public L1"],"range":[135,663],"padding":0}},"y":{"field":"share","type":"quantitative","scale":{"domain":[0,1],"range":[1028,914],"nice":false,"zero":false}},"text":{"field":"share","format":".0%"}}},
{"transform":[{"filter":"datum.test === 'Microscopy' && datum.share >= 0.75"}],"mark":{"type":"text","angle":270,"align":"right","baseline":"middle","dx":-8,"xOffset":-7.5,"fontSize":12.5,"color":"#8c8c8c"},"encoding":{"x":{"field":"unit","type":"nominal","scale":{"type":"point","domain":["Informal L2","Informal L1","Private L4","Private L3","Private L2","Private L1","Public L5","Public L4","Public L3","Public L2","Public L1"],"range":[135,663],"padding":0}},"y":{"field":"share","type":"quantitative","scale":{"domain":[0,1],"range":[1028,914],"nice":false,"zero":false}},"text":{"field":"share","format":".0%"}}},
{"transform":[{"filter":"datum.test === 'Radiography' && datum.share < 0.75"}],"mark":{"type":"text","angle":270,"align":"left","baseline":"middle","dx":7,"xOffset":7.5,"fontSize":12.5,"color":"#8c8c8c"},"encoding":{"x":{"field":"unit","type":"nominal","scale":{"type":"point","domain":["Informal L2","Informal L1","Private L4","Private L3","Private L2","Private L1","Public L5","Public L4","Public L3","Public L2","Public L1"],"range":[135,663],"padding":0}},"y":{"field":"share","type":"quantitative","scale":{"domain":[0,1],"range":[1028,914],"nice":false,"zero":false}},"text":{"field":"share","format":".0%"}}},
{"transform":[{"filter":"datum.test === 'Radiography' && datum.share >= 0.75"}],"mark":{"type":"text","angle":270,"align":"right","baseline":"middle","dx":-8,"xOffset":7.5,"fontSize":12.5,"color":"#8c8c8c"},"encoding":{"x":{"field":"unit","type":"nominal","scale":{"type":"point","domain":["Informal L2","Informal L1","Private L4","Private L3","Private L2","Private L1","Public L5","Public L4","Public L3","Public L2","Public L1"],"range":[135,663],"padding":0}},"y":{"field":"share","type":"quantitative","scale":{"domain":[0,1],"range":[1028,914],"nice":false,"zero":false}},"text":{"field":"share","format":".0%"}}}
]},

{"data":{"name":"diag"},"transform":[{"filter":{"field":"test","oneOf":["GeneXpert","GeneXpert Referral"]}}],"layer":[
{"transform":[{"filter":{"field":"test","equal":"GeneXpert"}}],"mark":{"type":"point","shape":"square","filled":true,"size":45,"opacity":1,"xOffset":-7.5},"encoding":{"x":{"field":"unit","type":"nominal","scale":{"type":"point","domain":["Informal L2","Informal L1","Private L4","Private L3","Private L2","Private L1","Public L5","Public L4","Public L3","Public L2","Public L1"],"range":[135,663],"padding":0}},"y":{"field":"share","type":"quantitative","scale":{"domain":[0,1],"range":[910,796.6],"nice":false,"zero":false}},"color":{"field":"unit","type":"nominal","scale":{"domain":["Informal L2","Informal L1","Private L4","Private L3","Private L2","Private L1","Public L5","Public L4","Public L3","Public L2","Public L1"],"range":["#e04f52","#f3b9b7","#356195","#6f96c4","#adc9e5","#c6dbef","#8c3b1b","#bf6c35","#da9441","#e9bb84","#f3d9aa"]}}}},
{"transform":[{"filter":{"field":"test","equal":"GeneXpert Referral"}}],"mark":{"type":"point","shape":"square","filled":false,"size":30,"strokeWidth":2,"opacity":1,"xOffset":7.5},"encoding":{"x":{"field":"unit","type":"nominal","scale":{"type":"point","domain":["Informal L2","Informal L1","Private L4","Private L3","Private L2","Private L1","Public L5","Public L4","Public L3","Public L2","Public L1"],"range":[135,663],"padding":0}},"y":{"field":"share","type":"quantitative","scale":{"domain":[0,1],"range":[910,796.6],"nice":false,"zero":false}},"color":{"field":"unit","type":"nominal","scale":{"domain":["Informal L2","Informal L1","Private L4","Private L3","Private L2","Private L1","Public L5","Public L4","Public L3","Public L2","Public L1"],"range":["#e04f52","#f3b9b7","#356195","#6f96c4","#adc9e5","#c6dbef","#8c3b1b","#bf6c35","#da9441","#e9bb84","#f3d9aa"]}}}},
{"transform":[{"filter":"datum.test === 'GeneXpert' && datum.share < 0.75"}],"mark":{"type":"text","angle":270,"align":"left","baseline":"middle","dx":7,"xOffset":-7.5,"fontSize":12.5,"color":"#8c8c8c"},"encoding":{"x":{"field":"unit","type":"nominal","scale":{"type":"point","domain":["Informal L2","Informal L1","Private L4","Private L3","Private L2","Private L1","Public L5","Public L4","Public L3","Public L2","Public L1"],"range":[135,663],"padding":0}},"y":{"field":"share","type":"quantitative","scale":{"domain":[0,1],"range":[910,796.6],"nice":false,"zero":false}},"text":{"field":"share","format":".0%"}}},
{"transform":[{"filter":"datum.test === 'GeneXpert' && datum.share >= 0.75"}],"mark":{"type":"text","angle":270,"align":"right","baseline":"middle","dx":-8,"xOffset":-7.5,"fontSize":12.5,"color":"#8c8c8c"},"encoding":{"x":{"field":"unit","type":"nominal","scale":{"type":"point","domain":["Informal L2","Informal L1","Private L4","Private L3","Private L2","Private L1","Public L5","Public L4","Public L3","Public L2","Public L1"],"range":[135,663],"padding":0}},"y":{"field":"share","type":"quantitative","scale":{"domain":[0,1],"range":[910,796.6],"nice":false,"zero":false}},"text":{"field":"share","format":".0%"}}},
{"transform":[{"filter":"datum.test === 'GeneXpert Referral' && datum.share < 0.75"}],"mark":{"type":"text","angle":270,"align":"left","baseline":"middle","dx":7,"xOffset":7.5,"fontSize":12.5,"color":"#8c8c8c"},"encoding":{"x":{"field":"unit","type":"nominal","scale":{"type":"point","domain":["Informal L2","Informal L1","Private L4","Private L3","Private L2","Private L1","Public L5","Public L4","Public L3","Public L2","Public L1"],"range":[135,663],"padding":0}},"y":{"field":"share","type":"quantitative","scale":{"domain":[0,1],"range":[910,796.6],"nice":false,"zero":false}},"text":{"field":"share","format":".0%"}}},
{"transform":[{"filter":"datum.test === 'GeneXpert Referral' && datum.share >= 0.75"}],"mark":{"type":"text","angle":270,"align":"right","baseline":"middle","dx":-8,"xOffset":7.5,"fontSize":12.5,"color":"#8c8c8c"},"encoding":{"x":{"field":"unit","type":"nominal","scale":{"type":"point","domain":["Informal L2","Informal L1","Private L4","Private L3","Private L2","Private L1","Public L5","Public L4","Public L3","Public L2","Public L1"],"range":[135,663],"padding":0}},"y":{"field":"share","type":"quantitative","scale":{"domain":[0,1],"range":[910,796.6],"nice":false,"zero":false}},"text":{"field":"share","format":".0%"}}}
]},

{"data":{"values":[{}]},"layer":[
{"mark":{"type":"rule","color":"#a9a9a9","strokeWidth":1.5},"encoding":{"x":{"datum":-1.5094,"type":"quantitative","scale":{"domain":[1,11],"range":[133,663],"nice":false,"zero":false}},"x2":{"datum":11.547},"y":{"datum":1.0775,"type":"quantitative","scale":{"domain":[0,1],"range":[1167,1038],"nice":false,"zero":false}}}},
{"mark":{"type":"rule","color":"#a9a9a9","strokeWidth":1.5},"encoding":{"x":{"datum":0.434,"type":"quantitative","scale":{"domain":[1,11],"range":[133,663],"nice":false,"zero":false}},"y":{"datum":1.0775,"type":"quantitative","scale":{"domain":[0,1],"range":[1167,1038],"nice":false,"zero":false}},"y2":{"datum":-1.2016}}},
{"mark":{"type":"rule","color":"#a9a9a9","strokeWidth":1.5},"encoding":{"x":{"datum":11.547,"type":"quantitative","scale":{"domain":[1,11],"range":[133,663],"nice":false,"zero":false}},"y":{"datum":1.0775,"type":"quantitative","scale":{"domain":[0,1],"range":[1167,1038],"nice":false,"zero":false}},"y2":{"datum":-1.147}}},
{"mark":{"type":"text","text":"1","angle":270,"align":"center","baseline":"middle","fontSize":22,"fontWeight":"bold","color":"#3f3f3f"},"encoding":{"x":{"datum":-1.132,"type":"quantitative","scale":{"domain":[1,11],"range":[133,663],"nice":false,"zero":false}},"y":{"datum":0.2636,"type":"quantitative","scale":{"domain":[0,1],"range":[1167,1038],"nice":false,"zero":false}}}},
{"mark":{"type":"text","text":"Place of Initial Care Seeking","angle":270,"align":"center","baseline":"middle","fontSize":16,"fontWeight":"bold","color":"#3f3f3f"},"encoding":{"x":{"datum":-0.66,"type":"quantitative","scale":{"domain":[1,11],"range":[133,663],"nice":false,"zero":false}},"y":{"datum":0.2636,"type":"quantitative","scale":{"domain":[0,1],"range":[1167,1038],"nice":false,"zero":false}}}},
{"mark":{"type":"text","text":"by Facility Sector and Level","angle":270,"align":"center","baseline":"middle","fontSize":12.5,"fontWeight":"bold","color":"#3f3f3f"},"encoding":{"x":{"datum":-0.34,"type":"quantitative","scale":{"domain":[1,11],"range":[133,663],"nice":false,"zero":false}},"y":{"datum":0.2636,"type":"quantitative","scale":{"domain":[0,1],"range":[1167,1038],"nice":false,"zero":false}}}},
{"mark":{"type":"text","text":"Reported","angle":270,"align":"center","baseline":"middle","fontSize":12,"fontWeight":"bold","color":"#555555"},"encoding":{"x":{"datum":-0.566,"type":"quantitative","scale":{"domain":[1,11],"range":[133,663],"nice":false,"zero":false}},"y":{"datum":-0.899,"type":"quantitative","scale":{"domain":[0,1],"range":[1167,1038],"nice":false,"zero":false}}}},
{"mark":{"type":"text","text":"Number","angle":270,"align":"center","baseline":"middle","fontSize":12,"fontWeight":"bold","color":"#555555"},"encoding":{"x":{"datum":-0.283,"type":"quantitative","scale":{"domain":[1,11],"range":[133,663],"nice":false,"zero":false}},"y":{"datum":-0.899,"type":"quantitative","scale":{"domain":[0,1],"range":[1167,1038],"nice":false,"zero":false}}}},
{"mark":{"type":"text","text":"of","angle":270,"align":"center","baseline":"middle","fontSize":12,"fontWeight":"bold","color":"#555555"},"encoding":{"x":{"datum":-0.038,"type":"quantitative","scale":{"domain":[1,11],"range":[133,663],"nice":false,"zero":false}},"y":{"datum":-0.899,"type":"quantitative","scale":{"domain":[0,1],"range":[1167,1038],"nice":false,"zero":false}}}},
{"mark":{"type":"text","text":"Facilities","angle":270,"align":"center","baseline":"middle","fontSize":12,"fontWeight":"bold","color":"#555555"},"encoding":{"x":{"datum":0.245,"type":"quantitative","scale":{"domain":[1,11],"range":[133,663],"nice":false,"zero":false}},"y":{"datum":-0.899,"type":"quantitative","scale":{"domain":[0,1],"range":[1167,1038],"nice":false,"zero":false}}}},
{"mark":{"type":"text","text":"NA= Data not available","angle":270,"align":"left","baseline":"middle","fontSize":12,"color":"#666666"},"encoding":{"x":{"datum":11.83,"type":"quantitative","scale":{"domain":[1,11],"range":[133,663],"nice":false,"zero":false}},"y":{"datum":-1.132,"type":"quantitative","scale":{"domain":[0,1],"range":[1167,1038],"nice":false,"zero":false}}}}
]},

{"data":{"name":"units"},"layer":[
{"transform":[{"filter":{"field":"unit","oneOf":["Informal L2","Private L4","Private L3","Private L2","Public L5","Public L4","Public L3","Public L2"]}}],"mark":{"type":"rule","xOffset":25.5,"color":"#d3d3d3","strokeWidth":1},"encoding":{"x":{"field":"unit","type":"nominal","scale":{"type":"point","domain":["Informal L2","Informal L1","Private L4","Private L3","Private L2","Private L1","Public L5","Public L4","Public L3","Public L2","Public L1"],"range":[135,663],"padding":0}},"y":{"datum":1.0775,"type":"quantitative","scale":{"domain":[0,1],"range":[1167,1038],"nice":false,"zero":false}},"y2":{"datum":-1.008}}},
{"transform":[{"filter":{"field":"unit","equal":"Informal L1"}}],"mark":{"type":"rule","xOffset":25.5,"color":"#a9a9a9","strokeWidth":1.5},"encoding":{"x":{"field":"unit","type":"nominal","scale":{"type":"point","domain":["Informal L2","Informal L1","Private L4","Private L3","Private L2","Private L1","Public L5","Public L4","Public L3","Public L2","Public L1"],"range":[135,663],"padding":0}},"y":{"datum":1.0775,"type":"quantitative","scale":{"domain":[0,1],"range":[1167,1038],"nice":false,"zero":false}},"y2":{"datum":-1.31}}},
{"transform":[{"filter":{"field":"unit","equal":"Private L1"}}],"mark":{"type":"rule","xOffset":25.5,"color":"#a9a9a9","strokeWidth":1.5},"encoding":{"x":{"field":"unit","type":"nominal","scale":{"type":"point","domain":["Informal L2","Informal L1","Private L4","Private L3","Private L2","Private L1","Public L5","Public L4","Public L3","Public L2","Public L1"],"range":[135,663],"padding":0}},"y":{"datum":1.0775,"type":"quantitative","scale":{"domain":[0,1],"range":[1167,1038],"nice":false,"zero":false}},"y2":{"datum":-1.163}}},
{"mark":{"type":"bar","width":25,"fill":"#ffffff","stroke":"#c9c9c9","strokeWidth":1},"encoding":{"x":{"field":"unit","type":"nominal","scale":{"type":"point","domain":["Informal L2","Informal L1","Private L4","Private L3","Private L2","Private L1","Public L5","Public L4","Public L3","Public L2","Public L1"],"range":[135,663],"padding":0}},"y":{"datum":1,"type":"quantitative","scale":{"domain":[0,1],"range":[1167,1038],"nice":false,"zero":false}},"y2":{"datum":0}}},
{"mark":{"type":"bar","width":25,"strokeWidth":1.5},"encoding":{"x":{"field":"unit","type":"nominal","scale":{"type":"point","domain":["Informal L2","Informal L1","Private L4","Private L3","Private L2","Private L1","Public L5","Public L4","Public L3","Public L2","Public L1"],"range":[135,663],"padding":0}},"y":{"field":"seek","type":"quantitative","scale":{"domain":[0,1],"range":[1167,1038],"nice":false,"zero":false}},"y2":{"datum":0},"fill":{"field":"unit","type":"nominal","scale":{"domain":["Informal L2","Informal L1","Private L4","Private L3","Private L2","Private L1","Public L5","Public L4","Public L3","Public L2","Public L1"],"range":["#e04f52","#f3b9b7","#356195","#6f96c4","#adc9e5","#c6dbef","#8c3b1b","#bf6c35","#da9441","#e9bb84","#f3d9aa"]}},"stroke":{"field":"unit","type":"nominal","scale":{"domain":["Informal L2","Informal L1","Private L4","Private L3","Private L2","Private L1","Public L5","Public L4","Public L3","Public L2","Public L1"],"range":["#e04f52","#f3b9b7","#356195","#6f96c4","#adc9e5","#c6dbef","#8c3b1b","#bf6c35","#da9441","#e9bb84","#f3d9aa"]}}}},
{"mark":{"type":"text","angle":270,"align":"left","baseline":"middle","dx":6,"fontSize":12.5,"color":"#8a8a8a"},"encoding":{"x":{"field":"unit","type":"nominal","scale":{"type":"point","domain":["Informal L2","Informal L1","Private L4","Private L3","Private L2","Private L1","Public L5","Public L4","Public L3","Public L2","Public L1"],"range":[135,663],"padding":0}},"y":{"field":"seek","type":"quantitative","scale":{"domain":[0,1],"range":[1167,1038],"nice":false,"zero":false}},"text":{"field":"seek","format":".0%"}}},
{"mark":{"type":"text","angle":270,"align":"center","baseline":"middle","fontSize":11,"fontWeight":"bold","color":"#666666"},"encoding":{"x":{"field":"unit","type":"nominal","scale":{"type":"point","domain":["Informal L2","Informal L1","Private L4","Private L3","Private L2","Private L1","Public L5","Public L4","Public L3","Public L2","Public L1"],"range":[135,663],"padding":0}},"y":{"datum":-0.279,"type":"quantitative","scale":{"domain":[0,1],"range":[1167,1038],"nice":false,"zero":false}},"text":{"field":"level"}}},
{"mark":{"type":"text","angle":270,"align":"center","baseline":"middle","fontSize":13,"color":"#8a8a8a"},"encoding":{"x":{"field":"unit","type":"nominal","scale":{"type":"point","domain":["Informal L2","Informal L1","Private L4","Private L3","Private L2","Private L1","Public L5","Public L4","Public L3","Public L2","Public L1"],"range":[135,663],"padding":0}},"y":{"datum":-0.922,"type":"quantitative","scale":{"domain":[0,1],"range":[1167,1038],"nice":false,"zero":false}},"text":{"field":"facilities"}}},
{"data":{"name":"sectors"},"mark":{"type":"text","angle":270,"align":"left","baseline":"middle","dy":-18,"fontSize":15.5,"fontWeight":"bold"},"encoding":{"x":{"field":"unit","type":"nominal","scale":{"type":"point","domain":["Informal L2","Informal L1","Private L4","Private L3","Private L2","Private L1","Public L5","Public L4","Public L3","Public L2","Public L1"],"range":[135,663],"padding":0}},"y":{"datum":-1.132,"type":"quantitative","scale":{"domain":[0,1],"range":[1167,1038],"nice":false,"zero":false}},"text":{"field":"label"},"color":{"field":"sector","type":"nominal","scale":{"domain":["Informal Private","Private","Public"],"range":["#e0474c","#4a77b4","#c4692d"]}}}}
]}
],
"resolve":{"scale":{"x":"independent","y":"independent","color":"independent","fill":"independent","stroke":"independent","opacity":"independent"}}
}
